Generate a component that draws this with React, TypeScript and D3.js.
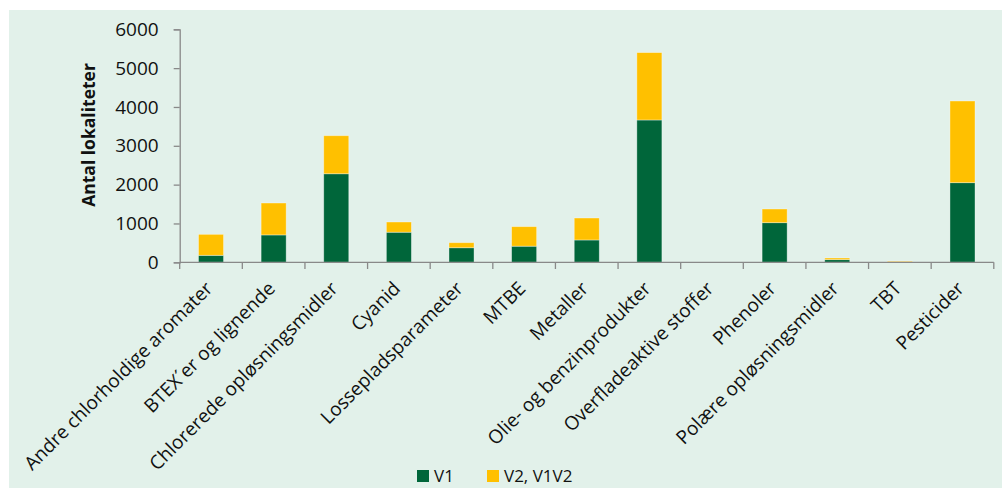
import React, { useEffect, useRef } from 'react';
import * as d3 from 'd3';

const categories = [
  'Andre chlorholdige aromater',
  'BTEX´er og lignende',
  'Chlorerede opløsningsmidler',
  'Cyanid',
  'Lossepladsparameter',
  'MTBE',
  'Metaller',
  'Olie- og benzinprodukter',
  'Overfladeaktive stoffer',
  'Phenoler',
  'Polære opløsningsmidler',
  'TBT',
  'Pesticider',
];
const v1 = [180, 705, 2280, 775, 375, 415, 575, 3665, 0, 1020, 68, 10, 2050];
const v2 = [540, 822, 980, 263, 130, 503, 566, 1735, 0, 353, 43, 20, 2104];
const yTicks = [0, 1000, 2000, 3000, 4000, 5000, 6000];
const seriesNames = ['V1', 'V2, V1V2'];
const colors = ['#00663A', '#FFC000'];

const FONT = '"Open Sans", "Liberation Sans", sans-serif';

export default function App() {
  const ref = useRef<SVGSVGElement>(null);

  useEffect(() => {
    const svg = d3.select(ref.current);
    svg.selectAll('*').remove();

    svg.append('rect')
      .attr('x', 9).attr('y', 10)
      .attr('width', 993).attr('height', 478)
      .attr('fill', '#E2F1EA');

    const x = d3.scaleBand()
      .domain(categories)
      .range([179.7, 993.8])
      .paddingInner(0.6)
      .paddingOuter(0.3);
    const y = d3.scaleLinear().domain([0, 6000]).range([262.3, 29.3]);

    const rows = categories.map((c, i) => ({ cat: c, V1: v1[i], V2: v2[i] }));
    const stacked = d3.stack<any>().keys(['V1', 'V2'])(rows);

    const g = svg.append('g');
    g.selectAll('g.series')
      .data(stacked)
      .enter().append('g')
      .attr('fill', (_d, i) => colors[i])
      .selectAll('rect')
      .data(d => d)
      .enter().append('rect')
      .attr('x', d => x(d.data.cat) as number)
      .attr('width', x.bandwidth())
      .attr('y', d => y(d[1]))
      .attr('height', d => y(d[0]) - y(d[1]))
      .attr('stroke', 'rgba(255,255,255,0.45)')
      .attr('stroke-width', 0.8);

    // y axis
    const yAxis = g.append('g')
      .attr('transform', 'translate(179.7,0)')
      .call(d3.axisLeft(y).tickValues(yTicks).tickSize(6).tickPadding(5).tickFormat(d3.format('d')));
    yAxis.select('.domain').attr('stroke', '#898989').attr('stroke-width', 1.3);
    yAxis.selectAll('.tick line').attr('stroke', '#898989').attr('stroke-width', 1.3);
    yAxis.selectAll('.tick text')
      .attr('font-family', FONT).attr('font-size', 19).attr('fill', '#111')
      .attr('x', -21);

    // x axis
    const step = x.step();
    const xTickPos = d3.range(categories.length + 1).map(i => 179.7 + i * step);
    const xa = g.append('g');
    xa.append('line')
      .attr('x1', 179.7).attr('x2', 993.8)
      .attr('y1', 262.3).attr('y2', 262.3)
      .attr('stroke', '#898989').attr('stroke-width', 1.3);
    xa.selectAll('line.tk')
      .data(xTickPos)
      .enter().append('line')
      .attr('class', 'tk')
      .attr('x1', d => d).attr('x2', d => d)
      .attr('y1', 262.3).attr('y2', 269)
      .attr('stroke', '#898989').attr('stroke-width', 1.3);

    xa.selectAll('text')
      .data(categories)
      .enter().append('text')
      .attr('transform', d => `translate(${(x(d) as number) + x.bandwidth() / 2 - 2},${285}) rotate(-45)`)
      .attr('text-anchor', 'end')
      .attr('dy', '0.35em')
      .attr('font-family', FONT)
      .attr('font-size', 19)
      .attr('fill', '#111')
      .text(d => d);

    svg.append('text')
      .attr('transform', 'translate(89,135) rotate(-90)')
      .attr('text-anchor', 'middle')
      .attr('dy', '0.35em')
      .attr('font-family', FONT)
      .attr('font-size', 17.5)
      .attr('font-weight', 'bold')
      .attr('fill', '#111')
      .text('Antal lokaliteter');

    // legend
    const legX = [417, 487];
    const leg = svg.append('g');
    seriesNames.forEach((n, i) => {
      leg.append('rect')
        .attr('x', legX[i]).attr('y', 470)
        .attr('width', 12).attr('height', 12)
        .attr('fill', colors[i]);
      leg.append('text')
        .attr('x', legX[i] + 17).attr('y', 476)
        .attr('dy', '0.35em')
        .attr('font-family', FONT)
        .attr('font-size', 17)
        .attr('fill', '#111')
        .text(n);
    });
  }, []);

  return (
    <svg ref={ref} width={1002} height={488}
      style={{ position: 'absolute', left: 0, top: 0 }} />
  );
}
